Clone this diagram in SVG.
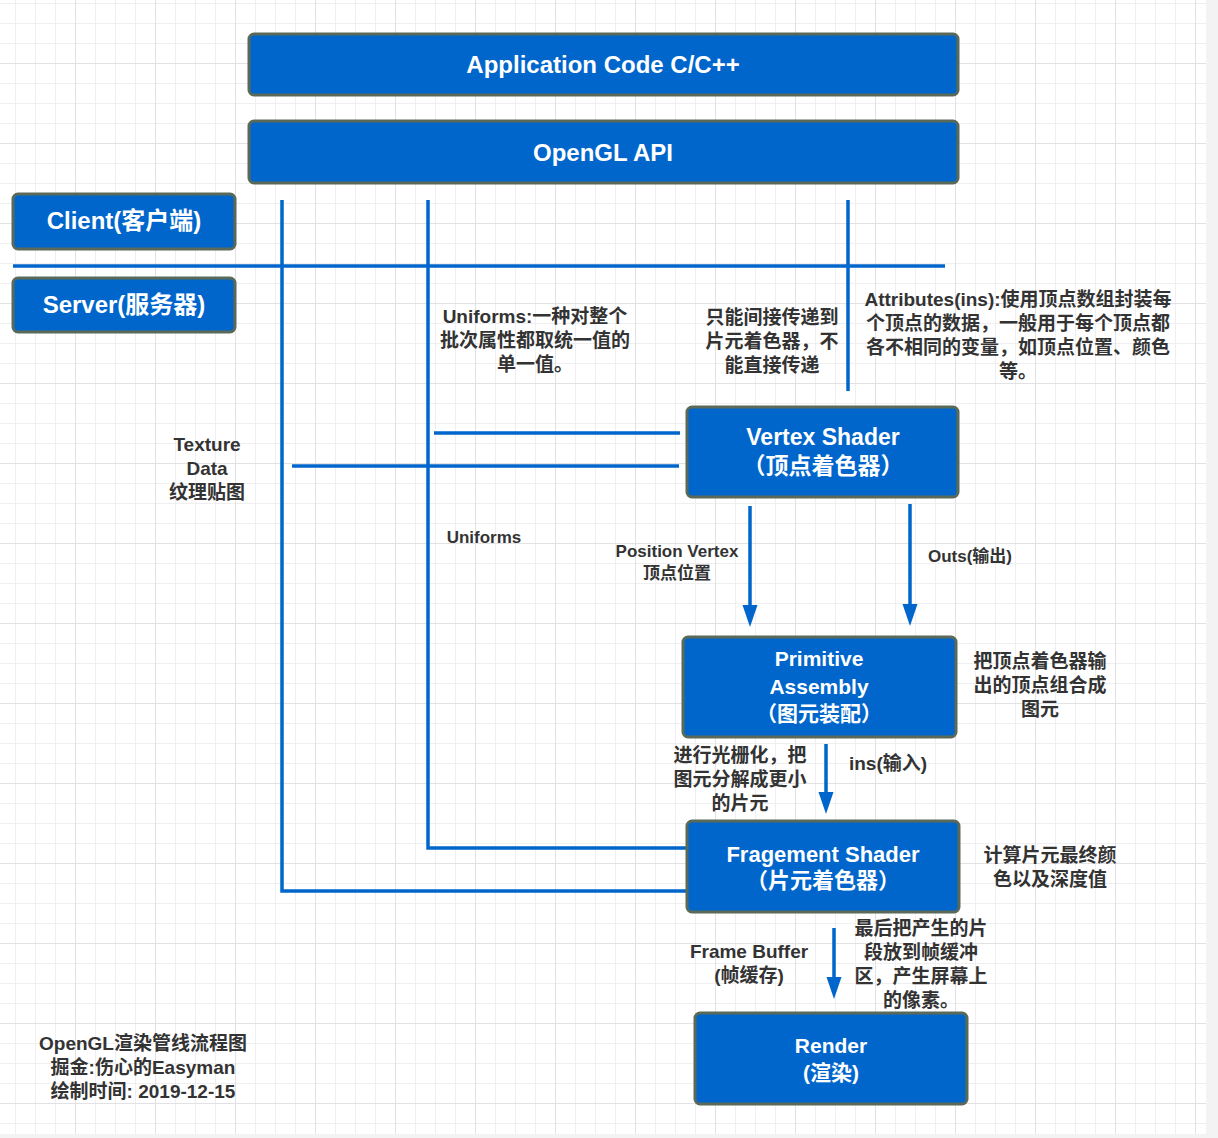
<svg xmlns="http://www.w3.org/2000/svg" width="1218" height="1138" viewBox="0 0 1218 1138">
<defs>
<pattern id="gmin" patternUnits="userSpaceOnUse" x="15" y="3" width="20" height="20">
<rect x="0" y="0" width="1" height="20" fill="#efeff1"/>
<rect x="0" y="0" width="20" height="1" fill="#efeff1"/>
</pattern>
<pattern id="gmaj" patternUnits="userSpaceOnUse" x="75" y="63" width="80" height="80">
<rect x="0" y="0" width="1" height="80" fill="#e2e2e6"/>
<rect x="0" y="0" width="80" height="1" fill="#e2e2e6"/>
</pattern>
<marker id="ah" markerUnits="userSpaceOnUse" markerWidth="22" markerHeight="16" refX="1" refY="8" orient="auto" viewBox="0 0 22 16">
<path d="M0,0.5 L22,8 L0,15.5 Z" fill="#0066cc"/>
</marker>
<style>
.box{fill:#0066cc;stroke:#5b6a58;stroke-width:3}
.bt{font-family:"Liberation Sans","Noto Sans CJK SC",sans-serif;font-weight:bold;fill:#ffffff;text-anchor:middle}
.lb{font-family:"Liberation Sans","Noto Sans CJK SC",sans-serif;font-weight:bold;fill:#333333;text-anchor:middle;font-size:19px}
.sm{font-size:17px}
.ln{fill:none;stroke:#0066cc;stroke-width:3.5}
.ar{fill:none;stroke:#0066cc;stroke-width:3.5;marker-end:url(#ah)}
</style>
</defs>
<rect x="0" y="0" width="1218" height="1138" fill="#f3f3f3"/>
<rect x="0" y="0" width="1206" height="1134" fill="#ffffff"/>
<rect x="0" y="0" width="1206" height="1134" fill="url(#gmin)"/>
<rect x="0" y="0" width="1206" height="1134" fill="url(#gmaj)"/>

<g id="connectors">
<path class="ln" d="M13,266 H945"/>
<path class="ln" d="M282,200 V891 H687"/>
<path class="ln" d="M428,200 V848 H687"/>
<path class="ln" d="M848,200 V391"/>
<path class="ln" d="M434,433 H680"/>
<path class="ln" d="M292,466 H679"/>
<path class="ar" d="M750,506 V606"/>
<path class="ar" d="M910,504 V605"/>
<path class="ar" d="M826,744 V793"/>
<path class="ar" d="M834,928 V978"/>
</g>

<g id="app-code">
<rect class="box" x="249" y="34" width="709" height="61" rx="5"/>
<text class="bt" x="603" y="73" font-size="24">Application Code C/C++</text>
</g>
<g id="opengl-api">
<rect class="box" x="249" y="121" width="709" height="62" rx="5"/>
<text class="bt" x="603" y="161" font-size="24">OpenGL API</text>
</g>
<g id="client">
<rect class="box" x="13" y="194" width="222" height="55" rx="5"/>
<text class="bt" x="124" y="229" font-size="24">Client(客户端)</text>
</g>
<g id="server">
<rect class="box" x="13" y="278" width="222" height="54" rx="5"/>
<text class="bt" x="124" y="313" font-size="24">Server(服务器)</text>
</g>
<g id="vertex-shader">
<rect class="box" x="687" y="407" width="271" height="90" rx="5"/>
<text class="bt" x="823" y="445" font-size="23">Vertex Shader</text>
<text class="bt" x="823" y="474" font-size="23">（顶点着色器）</text>
</g>
<g id="primitive-assembly">
<rect class="box" x="683" y="637" width="273" height="100" rx="5"/>
<text class="bt" x="819" y="666" font-size="21">Primitive</text>
<text class="bt" x="819" y="694" font-size="21">Assembly</text>
<text class="bt" x="819" y="721" font-size="21">（图元装配）</text>
</g>
<g id="fragment-shader">
<rect class="box" x="687" y="821" width="272" height="91" rx="5"/>
<text class="bt" x="823" y="862" font-size="22">Fragement Shader</text>
<text class="bt" x="823" y="888" font-size="22">（片元着色器）</text>
</g>
<g id="render">
<rect class="box" x="695" y="1013" width="272" height="91" rx="5"/>
<text class="bt" x="831" y="1053" font-size="21">Render</text>
<text class="bt" x="831" y="1080" font-size="21">(渲染)</text>
</g>

<g id="labels">
<text class="lb" x="535" y="323">Uniforms:一种对整个</text>
<text class="lb" x="535" y="347">批次属性都取统一值的</text>
<text class="lb" x="535" y="371">单一值。</text>
<text class="lb" x="772" y="324">只能间接传递到</text>
<text class="lb" x="772" y="348">片元着色器，不</text>
<text class="lb" x="772" y="372">能直接传递</text>
<text class="lb" x="1018" y="306">Attributes(ins):使用顶点数组封装每</text>
<text class="lb" x="1018" y="330">个顶点的数据，一般用于每个顶点都</text>
<text class="lb" x="1018" y="354">各不相同的变量，如顶点位置、颜色</text>
<text class="lb" x="1018" y="378">等。</text>
<text class="lb" x="207" y="451">Texture</text>
<text class="lb" x="207" y="475">Data</text>
<text class="lb" x="207" y="499">纹理贴图</text>
<text class="lb sm" x="484" y="543">Uniforms</text>
<text class="lb sm" x="677" y="557">Position Vertex</text>
<text class="lb sm" x="677" y="579">顶点位置</text>
<text class="lb sm" x="970" y="562">Outs(输出)</text>
<text class="lb" x="1040" y="668">把顶点着色器输</text>
<text class="lb" x="1040" y="692">出的顶点组合成</text>
<text class="lb" x="1040" y="716">图元</text>
<text class="lb" x="740" y="762">进行光栅化，把</text>
<text class="lb" x="740" y="786">图元分解成更小</text>
<text class="lb" x="740" y="810">的片元</text>
<text class="lb" x="888" y="770">ins(输入)</text>
<text class="lb" x="1050" y="862">计算片元最终颜</text>
<text class="lb" x="1050" y="886">色以及深度值</text>
<text class="lb" x="749" y="958">Frame Buffer</text>
<text class="lb" x="749" y="982">(帧缓存)</text>
<text class="lb" x="921" y="935">最后把产生的片</text>
<text class="lb" x="921" y="959">段放到帧缓冲</text>
<text class="lb" x="921" y="983">区，产生屏幕上</text>
<text class="lb" x="921" y="1007">的像素。</text>
<text class="lb" x="143" y="1050">OpenGL渲染管线流程图</text>
<text class="lb" x="143" y="1074">掘金:伤心的Easyman</text>
<text class="lb" x="143" y="1098">绘制时间: 2019-12-15</text>
</g>
</svg>
